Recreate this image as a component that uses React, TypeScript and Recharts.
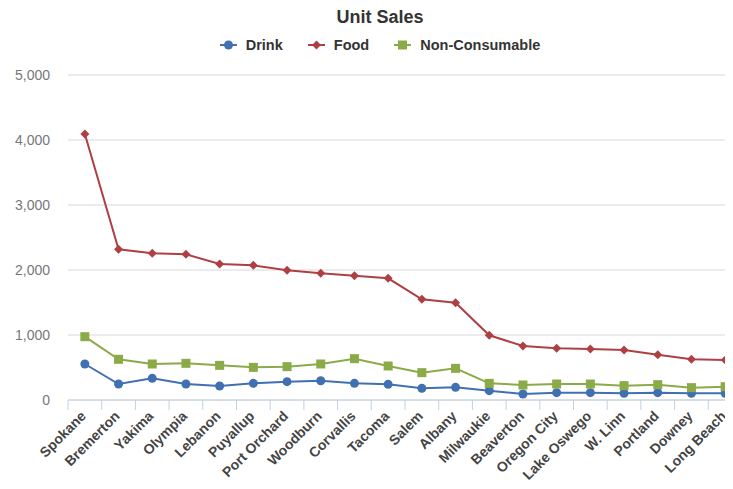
import { LineChart, Line, XAxis, YAxis, CartesianGrid } from "recharts";

const categories = [
    "Spokane", "Bremerton", "Yakima", "Olympia", "Lebanon", "Puyallup", "Port Orchard",
    "Woodburn", "Corvallis", "Tacoma", "Salem", "Albany", "Milwaukie", "Beaverton",
    "Oregon City", "Lake Oswego", "W. Linn", "Portland", "Downey", "Long Beach",
];
const drink = [554, 246, 333, 246, 215, 256, 282, 297, 256, 241, 179, 195, 144, 92, 113, 113, 103, 113, 103, 103];
const food = [4092, 2318, 2256, 2241, 2092, 2072, 1995, 1949, 1913, 1872, 1549, 1497, 995, 831, 795, 785, 769, 697, 626, 615];
const nonConsumable = [974, 626, 554, 564, 533, 502, 513, 554, 636, 523, 421, 487, 256, 231, 246, 246, 221, 236, 190, 205];
const yTicks = [0, 1000, 2000, 3000, 4000, 5000];

const series = [
    { key: "drink", name: "Drink", color: "#4170B0", shape: "circle" },
    { key: "food", name: "Food", color: "#AE4044", shape: "diamond" },
    { key: "nonConsumable", name: "Non-Consumable", color: "#8BAA48", shape: "square" },
];

const data = categories.map((name, i) => ({
    name,
    drink: drink[i],
    food: food[i],
    nonConsumable: nonConsumable[i],
}));

const CHART_W = 760;
const CHART_H = 489;
const Y_AXIS_W = 68;
const MARGIN_RIGHT = 18;
const BAND = (CHART_W - Y_AXIS_W - MARGIN_RIGHT) / categories.length;
const FONT = "'Liberation Sans', Arial, sans-serif";

function Marker({ shape, color, cx, cy }: { shape: string; color: string; cx: number; cy: number }) {
    if (shape === "circle") return <circle cx={cx} cy={cy} r={4.5} fill={color} />;
    if (shape === "square") return <rect x={cx - 4.5} y={cy - 4.5} width={9} height={9} fill={color} />;
    return <path d={`M${cx} ${cy - 4.5} L${cx + 4.5} ${cy} L${cx} ${cy + 4.5} L${cx - 4.5} ${cy} Z`} fill={color} />;
}

const makeDot = (shape: string, color: string) => (props: any) => {
    const { cx, cy, index } = props;
    if (cx == null || cy == null) return <g key={index} />;
    return <Marker key={index} shape={shape} color={color} cx={cx} cy={cy} />;
};

// category ticks sit on the band edges, labels at the band centre
function CategoryTick(props: any) {
    const { x, y, payload } = props;
    const half = BAND / 2;
    return (
        <g>
            <line x1={x - half} y1={y} x2={x - half} y2={y + 10} stroke="#C0D0E0" strokeWidth={1} />
            <text
                x={x + 2}
                y={y + 17}
                textAnchor="end"
                transform={`rotate(-45 ${x + 2} ${y + 17})`}
                fill="#444"
                fontSize={14}
                fontWeight="bold"
                fontFamily={FONT}
            >
                {payload.value}
            </text>
        </g>
    );
}

export default function App() {
    return (
        <div style={{ margin: -8, width: 733, height: 489, overflow: "hidden", position: "relative", background: "#fff", fontFamily: FONT }}>
            <div style={{ position: "absolute", left: 0, width: CHART_W, top: 7, textAlign: "center", fontSize: 18, fontWeight: "bold", color: "#333" }}>
                Unit Sales
            </div>
            <div style={{ position: "absolute", left: 0, width: CHART_W, top: 37, display: "flex", justifyContent: "center", gap: 25, fontSize: 14.5, fontWeight: "bold", color: "#333" }}>
                {series.map((s) => (
                    <div key={s.key} style={{ display: "flex", alignItems: "center", gap: 9 }}>
                        <svg width={17} height={12}>
                            <line x1={0} y1={6} x2={17} y2={6} stroke={s.color} strokeWidth={2} />
                            <Marker shape={s.shape} color={s.color} cx={8.5} cy={6} />
                        </svg>
                        <span>{s.name}</span>
                    </div>
                ))}
            </div>
            <LineChart
                width={CHART_W}
                height={CHART_H}
                data={data}
                margin={{ top: 75, right: MARGIN_RIGHT, bottom: 9, left: 0 }}
            >
                <CartesianGrid horizontal vertical={false} stroke="#D8D8D8" />
                <XAxis
                    dataKey="name"
                    interval={0}
                    height={80}
                    padding={{ left: BAND / 2, right: BAND / 2 }}
                    tickSize={0}
                    tickMargin={0}
                    axisLine={{ stroke: "#C0D0E0" }}
                    tickLine={false}
                    tick={<CategoryTick />}
                />
                <YAxis
                    width={Y_AXIS_W}
                    domain={[0, 5000]}
                    ticks={yTicks}
                    axisLine={false}
                    tickLine={false}
                    tickSize={0}
                    tickMargin={18}
                    tick={{ fill: "#777", fontSize: 14, fontFamily: FONT }}
                    tickFormatter={(v: number) => v.toLocaleString("en-US")}
                />
                {series.map((s) => (
                    <Line
                        key={s.key}
                        type="linear"
                        dataKey={s.key}
                        name={s.name}
                        stroke={s.color}
                        strokeWidth={2}
                        dot={makeDot(s.shape, s.color)}
                        activeDot={false}
                        isAnimationActive={false}
                    />
                ))}
            </LineChart>
        </div>
    );
}
